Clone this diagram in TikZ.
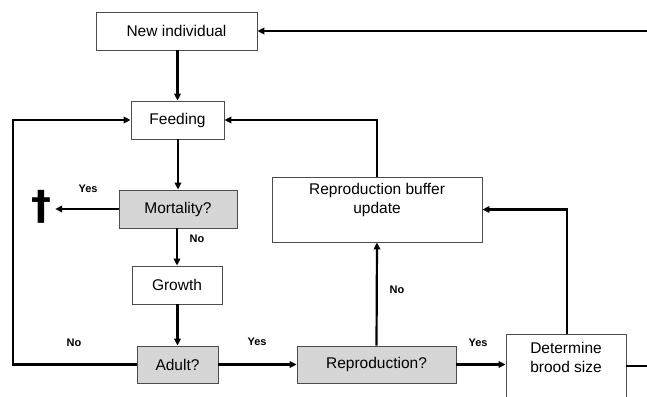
\documentclass[tikz,border=0pt]{standalone}
\usepackage{fontspec}
\setmainfont{Liberation Sans}
\newfontfamily\symfont{DejaVu Sans}
\usetikzlibrary{arrows.meta}
\begin{document}
\begin{tikzpicture}[x=1pt,y=-1pt,
  box/.style={draw=black!70, line width=0.8pt, fill=white, inner sep=0pt,
    font=\fontsize{15.5}{18}\selectfont, align=center},
  qbox/.style={box, fill=black!16},
  txt/.style={inner sep=0pt, font=\fontsize{15.5}{19}\selectfont, align=center},
  lbl/.style={inner sep=0pt, font=\fontsize{11}{13}\selectfont\bfseries},
  conn/.style={line width=2.2pt, -{Triangle[length=7pt,width=6.5pt]}},
  line/.style={line width=2.2pt}]
\useasboundingbox (0,0) rectangle (647,396);
\clip (0,0) rectangle (647,396);
\fill[white] (0,0) rectangle (647,396);
% boxes
\node[box, minimum width=161pt, minimum height=38pt] (new) at (176.5,31) {New individual};
\node[box, minimum width=93pt, minimum height=38pt] (feed) at (177.5,120) {Feeding};
\node[qbox, minimum width=118pt, minimum height=38pt] (mort) at (178,209) {Mortality?};
\node[box, minimum width=90pt, minimum height=38pt] (grow) at (177,285) {Growth};
\node[qbox, minimum width=81pt, minimum height=37pt] (adult) at (177.5,364.5) {Adult?};
\node[qbox, minimum width=159pt, minimum height=37pt] (repr) at (376.5,364.5) {Reproduction?};
\node[box, minimum width=210pt, minimum height=65pt] (buf) at (377,209.5) {};
\node[txt] (buft) at (377,200) {Reproduction buffer\\update};
\node[box, minimum width=120pt, minimum height=72pt, anchor=north] (det) at (566,334) {};
\node[txt] (dett) at (566,357) {Determine\\brood size};
% dagger
\node[inner sep=0pt, font=\symfont\bfseries\fontsize{40}{42}\selectfont] (dead) at (41,207) {†};
% free ends
\coordinate (topright) at (647,31);
\coordinate (detright) at (647,366);
\coordinate (leftup) at (13,120);
\coordinate (detup) at (567,209.5);
% connectors
\draw[conn] (topright) -- (new.east);
\draw[conn] (new.south -| feed.north) -- (feed.north);
\draw[conn] (feed.south -| mort.north) -- (mort.north);
\draw[conn] (mort.west) -- ([xshift=4pt]dead.east |- mort.west);
\draw[conn] (mort.south -| grow.north) -- (grow.north);
\draw[conn] (grow.south -| adult.north) -- (adult.north);
\draw[conn] (adult.west) -| (leftup) -- (feed.west);
\draw[conn] (adult.east) -- (repr.west);
\draw[conn] (repr.north) -- (buf.south);
\draw[conn] (buf.north) |- (feed.east);
\draw[conn] (repr.east) -- (det.west |- repr.east);
\draw[conn] (det.north -| detup) -- (detup) -- (buf.east);
\draw[line] (det.east |- detright) -- (detright);
% labels
\node[lbl] (l1) at (88,189) {Yes};
\node[lbl] (l2) at (197,239) {No};
\node[lbl] (l3) at (74,343) {No};
\node[lbl] (l4) at (257,342) {Yes};
\node[lbl] (l5) at (397,290) {No};
\node[lbl] (l6) at (478,343) {Yes};
\end{tikzpicture}
\end{document}
